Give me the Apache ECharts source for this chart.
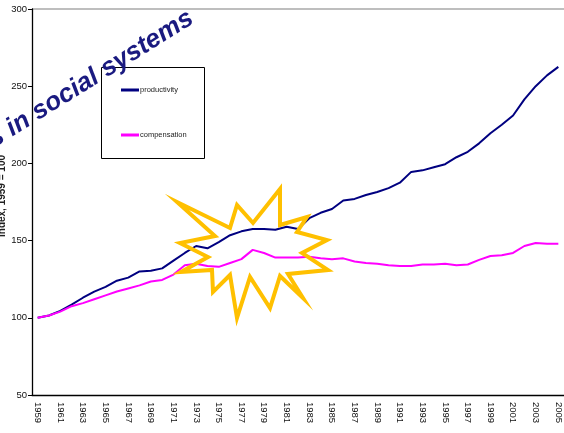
<!DOCTYPE html>
<html>
<head>
<meta charset="utf-8">
<script src="https://cdn.jsdelivr.net/npm/echarts@6/dist/echarts.min.js"></script>
<style>
html,body{margin:0;padding:0;background:#fff;}
#chart{width:564px;height:433px;}
</style>
</head>
<body>
<div id="chart"></div>
<script>
var years = [];
for (var y = 1959; y <= 2005; y++) years.push(String(y));

var productivity = [100, 101.5, 104.5, 108.5, 113, 117, 120, 124, 126, 130,
  130.5, 132, 137, 142, 146.5, 145, 149, 153.5, 156, 157.5,
  157.5, 157, 159, 157.5, 164.5, 168, 170.5, 176, 177, 179.5,
  181.5, 184, 187.5, 194.5, 195.5, 197.5, 199.5, 204, 207.5, 213,
  219.5, 225, 231, 241.5, 250, 257, 262.5];

var compensation = [100, 101.5, 104, 107.5, 109.5, 112, 114.5, 117, 119, 121,
  123.5, 124.5, 128, 134, 135, 133.5, 133, 135.5, 138, 144,
  142, 139, 139, 139, 139.5, 138.5, 138, 138.5, 136.5, 135.5,
  135, 134, 133.5, 133.5, 134.5, 134.5, 135, 134, 134.5, 137.5,
  140, 140.5, 142, 146.5, 148.5, 148, 148];

var seriesNames = ['productivity', 'compensation'];
var titleText = 's in social systems';
var yAxisTitle = 'Index, 1959 = 100';

var FONT = '"Liberation Sans", Arial, sans-serif';

var star = [
  [177,202],[230,228],[237,205],[253,223],[280,189],[280,225],[307,217],[297,232],
  [327,240],[302,253],[328,270],[288,274],[303,298],[280,276],[270,308],[250,277],
  [237,318],[230,275],[213,292],[212,270],[181,272],[208,257],[180,243],[215,236]
];

var chart = echarts.init(document.getElementById('chart'), null, {renderer: 'canvas'});
chart.setOption({
  animation: false,
  backgroundColor: '#ffffff',
  grid: {left: 32, top: 9, bottom: 38, right: -4, containLabel: false},
  legend: {
    data: seriesNames,
    orient: 'vertical',
    left: 121,
    top: 86,
    padding: 0,
    itemGap: 37,
    itemWidth: 18,
    itemHeight: 3,
    icon: 'rect',
    textStyle: {fontSize: 7.5, color: '#222', fontFamily: FONT, padding: [0, 0, 0, -4]},
    z: 10
  },
  xAxis: {
    type: 'category',
    data: years,
    boundaryGap: true,
    axisLine: {show: true, lineStyle: {color: '#000', width: 1.3}},
    axisTick: {show: false},
    axisLabel: {
      interval: 1,
      rotate: -90,
      fontSize: 9.5,
      color: '#111',
      fontFamily: FONT,
      margin: 7
    },
    splitLine: {show: false}
  },
  yAxis: {
    type: 'value',
    min: 50,
    max: 300,
    interval: 50,
    axisLine: {show: true, lineStyle: {color: '#000', width: 1.3}},
    axisTick: {show: true, length: 4, lineStyle: {color: '#000'}},
    axisLabel: {fontSize: 9.5, color: '#111', fontFamily: FONT, margin: 5},
    splitLine: {
      show: true,
      lineStyle: {
        color: ['rgba(0,0,0,0)', 'rgba(0,0,0,0)', 'rgba(0,0,0,0)', 'rgba(0,0,0,0)', 'rgba(0,0,0,0)', '#a8a8a8'],
        width: 1.5
      }
    }
  },
  series: [
    {
      name: seriesNames[0],
      type: 'line',
      data: productivity,
      showSymbol: false,
      symbol: 'none',
      lineStyle: {color: '#000080', width: 2},
      itemStyle: {color: '#000080'},
      z: 3
    },
    {
      name: seriesNames[1],
      type: 'line',
      data: compensation,
      showSymbol: false,
      symbol: 'none',
      lineStyle: {color: '#ff00ff', width: 2},
      itemStyle: {color: '#ff00ff'},
      z: 3
    }
  ],
  graphic: [
    {
      type: 'rect',
      shape: {x: 101.5, y: 67.5, width: 103, height: 91},
      style: {fill: '#fff', stroke: '#000', lineWidth: 1},
      z: 5
    },
    {
      type: 'polygon',
      shape: {points: star},
      style: {fill: 'none', stroke: '#ffc000', lineWidth: 4, lineJoin: 'miter'},
      z: 20
    },
    {
      type: 'text',
      x: -3,
      y: 153,
      rotation: 32 * Math.PI / 180,
      style: {
        text: titleText,
        x: 0, y: 0,
        align: 'left',
        verticalAlign: 'bottom',
        font: 'italic bold 26px ' + FONT,
        fill: '#1a1a80'
      },
      z: 30
    },
    {
      type: 'text',
      x: 2,
      y: 196,
      rotation: Math.PI / 2,
      style: {
        text: yAxisTitle,
        x: 0, y: 0,
        align: 'center',
        verticalAlign: 'middle',
        font: 'bold 10px ' + FONT,
        fill: '#222'
      },
      z: 30
    }
  ]
});
</script>
</body>
</html>
